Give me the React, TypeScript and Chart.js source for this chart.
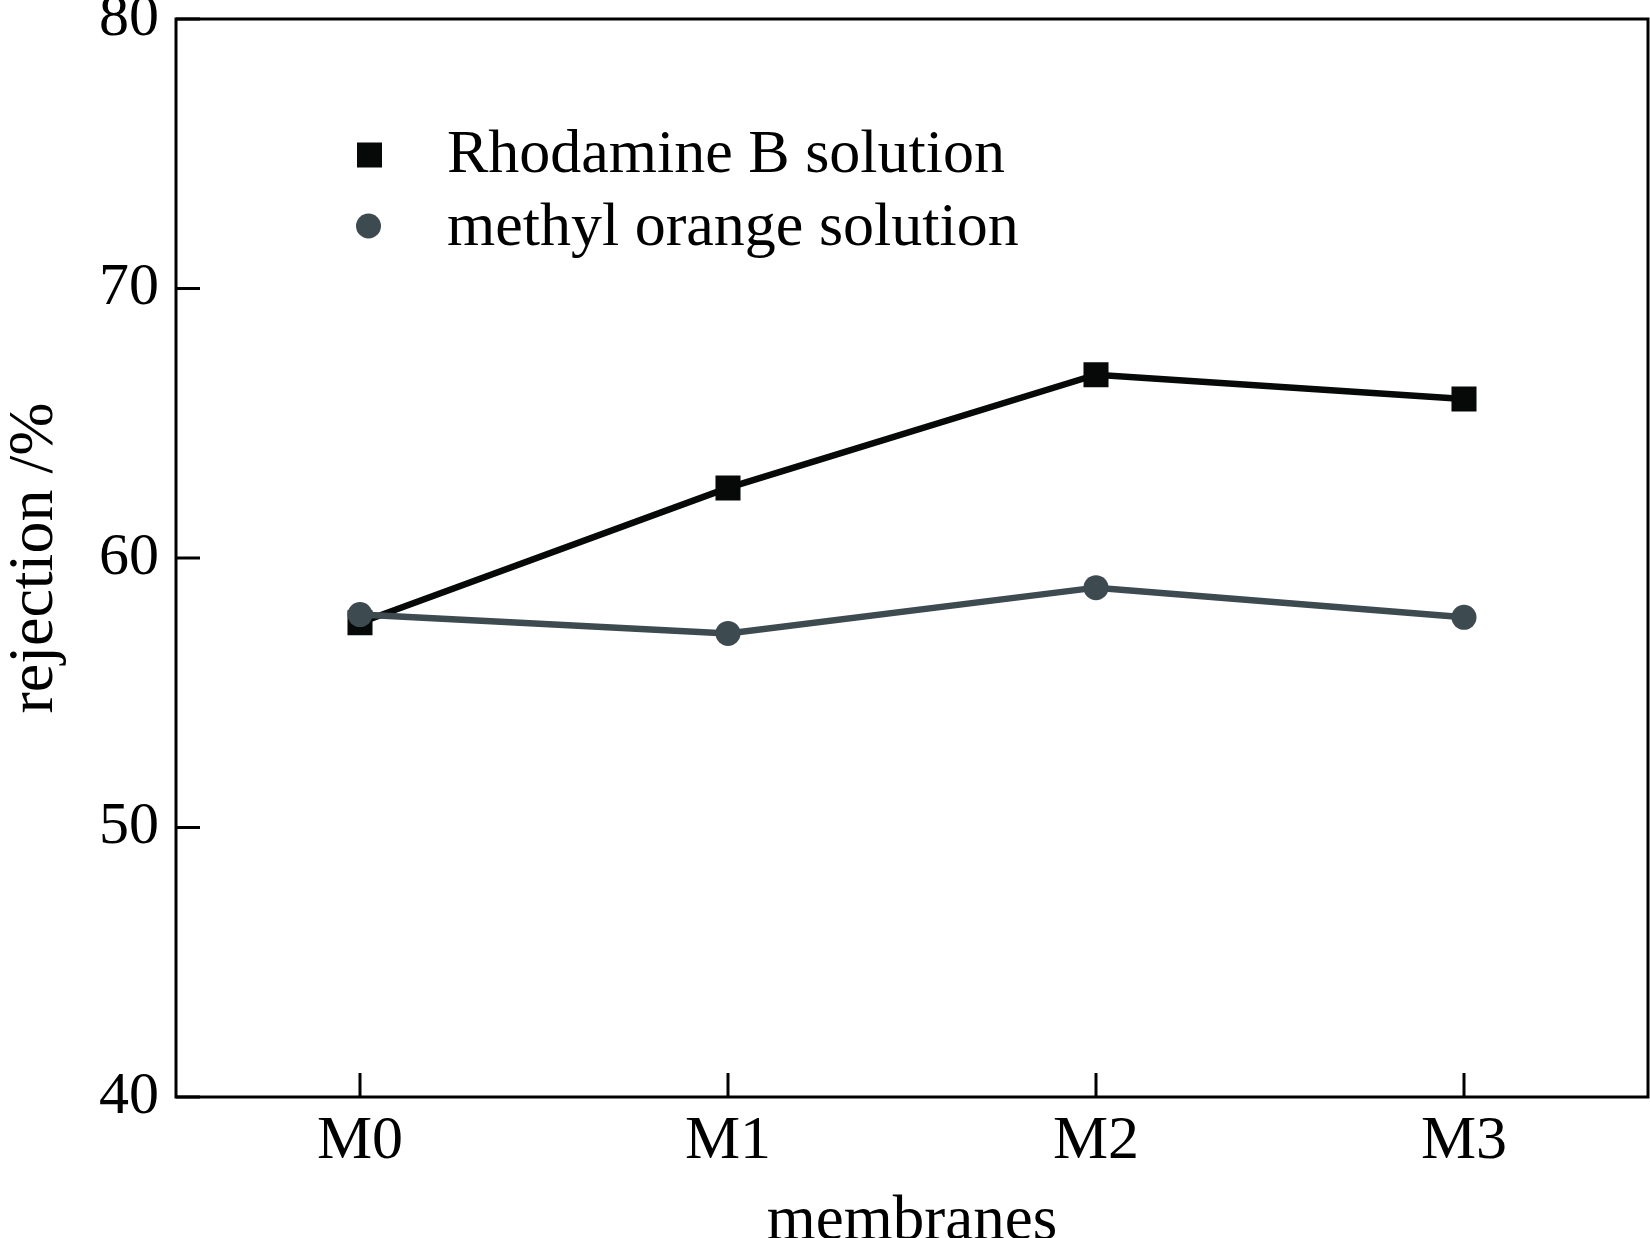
import React, { useEffect, useRef } from "react";
import { Chart, registerables } from "chart.js";

Chart.register(...registerables);

const categories = ["M0", "M1", "M2", "M3"];
const rhodamineB = [57.6, 62.6, 66.8, 65.9];
const methylOrange = [57.9, 57.2, 58.9, 57.8];
const yMin = 40;
const yMax = 80;
const yStep = 10;
const seriesLabels = ["Rhodamine B solution", "methyl orange solution"];
const xTitle = "membranes";
const yTitle = "rejection /%";

const FONT = "'Liberation Serif', 'Times New Roman', Times, serif";
const BLACK = "#060908";
const GREY = "#3d4a50";

const framePlugin = {
  id: "frameTicks",
  afterDatasetsDraw(chart: any) {
    const { ctx, chartArea } = chart;
    const { left, right, top, bottom } = chartArea;
    ctx.save();
    ctx.strokeStyle = "#000";
    ctx.lineWidth = 3;
    ctx.strokeRect(left, top, right - left, bottom - top);
    const tickLen = 24;
    const xs = chart.scales.x;
    xs.ticks.forEach((_t: any, i: number) => {
      const px = xs.getPixelForTick(i);
      ctx.beginPath();
      ctx.moveTo(px, bottom);
      ctx.lineTo(px, bottom - tickLen);
      ctx.stroke();
    });
    const ys = chart.scales.y;
    ys.ticks.forEach((_t: any, i: number) => {
      const py = ys.getPixelForTick(i);
      ctx.beginPath();
      ctx.moveTo(left, py);
      ctx.lineTo(left + tickLen, py);
      ctx.stroke();
    });
    ctx.restore();
  },
};

const legendPlugin = {
  id: "innerLegend",
  afterDraw(chart: any) {
    const { ctx } = chart;
    ctx.save();
    const rows = [
      { y: 155, base: 172 },
      { y: 226, base: 245 },
    ];
    chart.data.datasets.forEach((ds: any, i: number) => {
      const r = rows[i];
      ctx.fillStyle = ds.pointBackgroundColor;
      if (ds.pointStyle === "rect") {
        ctx.fillRect(357, r.y - 12.5, 25, 25);
      } else {
        ctx.beginPath();
        ctx.arc(368.5, r.y, 12.5, 0, Math.PI * 2);
        ctx.fill();
      }
      ctx.fillStyle = "#000";
      ctx.font = `62px ${FONT}`;
      ctx.textBaseline = "alphabetic";
      ctx.textAlign = "left";
      ctx.fillText(ds.label, 447, r.base);
    });
    ctx.restore();
  },
};

export default function App() {
  const ref = useRef<HTMLCanvasElement | null>(null);

  useEffect(() => {
    if (!ref.current) return;
    const chart = new Chart(ref.current, {
      type: "line",
      data: {
        labels: categories,
        datasets: [
          {
            label: seriesLabels[0],
            data: rhodamineB,
            borderColor: BLACK,
            backgroundColor: BLACK,
            pointBackgroundColor: BLACK,
            pointBorderColor: BLACK,
            pointBorderWidth: 0,
            pointStyle: "rect",
            pointRadius: 17.7,
            borderWidth: 6.5,
            tension: 0,
            order: 1,
          },
          {
            label: seriesLabels[1],
            data: methylOrange,
            borderColor: GREY,
            backgroundColor: GREY,
            pointBackgroundColor: GREY,
            pointBorderColor: GREY,
            pointBorderWidth: 0,
            pointStyle: "circle",
            pointRadius: 12.5,
            borderWidth: 6.5,
            tension: 0,
            order: 0,
          },
        ],
      },
      options: {
        animation: false,
        responsive: false,
        devicePixelRatio: 1,
        layout: { autoPadding: false, padding: { top: 19, right: 2, left: 0, bottom: 0 } },
        plugins: {
          legend: { display: false },
          tooltip: { enabled: false },
        },
        scales: {
          x: {
            type: "category",
            offset: true,
            grid: { display: false, drawTicks: false },
            border: { display: false },
            ticks: {
              color: "#000",
              font: { family: FONT, size: 62 },
              padding: 8,
              maxRotation: 0,
            },
            title: {
              display: true,
              text: xTitle,
              color: "#000",
              font: { family: FONT, size: 63, lineHeight: 1 },
              padding: { top: 0, bottom: -16 },
            },
            afterFit(scale: any) {
              scale.height = 141;
              scale.paddingLeft = 0;
              scale.paddingRight = 0;
            },
          },
          y: {
            min: yMin,
            max: yMax,
            grid: { display: false, drawTicks: false },
            border: { display: false },
            ticks: {
              stepSize: yStep,
              color: "#000",
              font: { family: FONT, size: 60 },
              padding: 17,
            },
            title: {
              display: true,
              text: yTitle,
              color: "#000",
              font: { family: FONT, size: 64, lineHeight: 1 },
              padding: { top: 3, bottom: 0 },
            },
            afterFit(scale: any) {
              scale.width = 176;
              scale.paddingTop = 0;
              scale.paddingBottom = 0;
              scale.paddingLeft = 0;
              scale.paddingRight = 0;
            },
          },
        },
      },
      plugins: [framePlugin, legendPlugin],
    } as any);
    return () => chart.destroy();
  }, []);

  return (
    <div style={{ position: "fixed", left: 0, top: 0, width: 1650, height: 1238, background: "#fff", overflow: "hidden" }}>
      <canvas ref={ref} width={1650} height={1238} style={{ display: "block" }} />
    </div>
  );
}
